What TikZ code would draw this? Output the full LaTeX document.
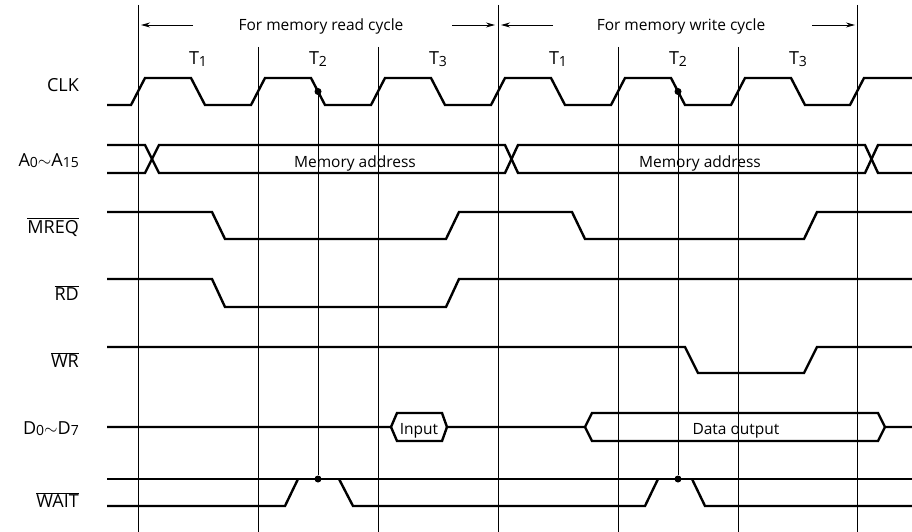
\documentclass[tikz,border=0pt]{standalone}
\usepackage{fontspec}
\setmainfont{Open Sans}
\usetikzlibrary{arrows.meta}
\newcommand\ovl[1]{$\overline{\mbox{#1}}$}
\newcommand\subs[1]{\raisebox{-1.5pt}{\fontsize{14}{16}\selectfont #1}}

\begin{document}
\begin{tikzpicture}[x=1pt, y=-1pt,
    sig/.style = {line width=2.4pt},
    grid/.style = {line width=0.9pt},
    lbl/.style = {anchor=base east, inner sep=0pt, font=\fontsize{18}{20}\selectfont},
    txt/.style = {anchor=base, inner sep=0pt, font=\fontsize{15.5}{18}\selectfont},
    tlbl/.style = {anchor=base, inner sep=0pt, font=\fontsize{18}{20}\selectfont},
    dim/.style = {line width=0.9pt, -{Stealth[length=9pt, width=5pt]}},
    dot/.style = {circle, fill, inner sep=0pt, minimum size=7pt}]
\useasboundingbox (0,0) rectangle (912,532);

% signal names
\node[lbl] (clk) at (79,92) {CLK};
\node[lbl] (addr) at (79,166) {A\subs{0}$\sim$A\subs{15}};
\node[lbl] (mreq) at (79,233) {\ovl{MREQ}};
\node[lbl] (rd) at (79,300) {\ovl{RD}};
\node[lbl] (wr) at (79,367) {\ovl{WR}};
\node[lbl] (data) at (79,434) {D\subs{0}$\sim$D\subs{7}};
\node[lbl] (wait) at (79,507) {\ovl{WAIT}};

% cycle boundaries and states
\foreach \x in {138,498,857} \draw[grid] (\x,5) -- (\x,532);
\foreach \x in {258,378,618,738} \draw[grid] (\x,47) -- (\x,532);
\node[txt] (rdcyc) at (321,31) {For memory read cycle};
\node[txt] (wrcyc) at (681,31) {For memory write cycle};
\coordinate (ra) at (193,25); \coordinate (rb) at (141,25);
\coordinate (rc) at (452,25); \coordinate (rd1) at (495,25);
\coordinate (wa) at (553,25); \coordinate (wb) at (501,25);
\coordinate (wc) at (812,25); \coordinate (wd) at (855,25);
\draw[dim] (ra) -- (rb);
\draw[dim] (rc) -- (rd1);
\draw[dim] (wa) -- (wb);
\draw[dim] (wc) -- (wd);
\node[tlbl] (t1) at (198,65) {T\subs{1}};
\node[tlbl] (t2) at (318,65) {T\subs{2}};
\node[tlbl] (t3) at (438,65) {T\subs{3}};
\node[tlbl] (t4) at (558,65) {T\subs{1}};
\node[tlbl] (t5) at (678,65) {T\subs{2}};
\node[tlbl] (t6) at (798,65) {T\subs{3}};

% CLK
\draw[sig] (107,105) foreach \t in {138,258,378,498,618,738}
    {-- ({\t-7},105) -- ({\t+7},78) -- ({\t+53},78) -- ({\t+67},105)}
    -- (850,105) -- (864,78) -- (912,78);

% address bus
\draw[sig] (107,145) -- (145,145) -- (159,173) -- (505,173) -- (518,145)
    -- (865,145) -- (878,173) -- (912,173);
\draw[sig] (107,173) -- (145,173) -- (159,145) -- (505,145) -- (518,173)
    -- (865,173) -- (878,145) -- (912,145);
\node[txt] (ma1) at (355,167) {Memory address};
\node[txt] (ma2) at (700,167) {Memory address};

% MREQ, RD, WR
\draw[sig] (107,212) -- (212,212) -- (225,239) -- (446,239) -- (459,212)
    -- (572,212) -- (585,239) -- (804,239) -- (817,212) -- (912,212);
\draw[sig] (107,279) -- (212,279) -- (225,307) -- (446,307) -- (459,279) -- (912,279);
\draw[sig] (107,347) -- (685,347) -- (698,373) -- (804,373) -- (817,347) -- (912,347);

% data bus
\draw[sig] (107,427) -- (391,427) -- (397,413) -- (442,413) -- (447,427)
    -- (585,427) -- (592,413) -- (878,413) -- (885,427) -- (912,427);
\draw[sig] (391,427) -- (397,441) -- (442,441) -- (447,427);
\draw[sig] (585,427) -- (592,441) -- (878,441) -- (885,427);
\node[txt] (din) at (419,434) {Input};
\node[txt] (dout) at (736,434) {Data output};

% WAIT
\draw[sig] (107,479) -- (912,479);
\draw[sig] (107,506) -- (285,506) -- (298,479);
\draw[sig] (339,479) -- (353,506) -- (645,506) -- (658,479);
\draw[sig] (692,479) -- (705,506) -- (912,506);

% sampling points
\node[dot] (c1) at (318,91.5) {};
\node[dot] (c2) at (678,91.5) {};
\node[dot] (w1) at (318,479) {};
\node[dot] (w2) at (678,479) {};
\draw[grid] (c1) -- (w1);
\draw[grid] (c2) -- (w2);
\end{tikzpicture}
\end{document}
